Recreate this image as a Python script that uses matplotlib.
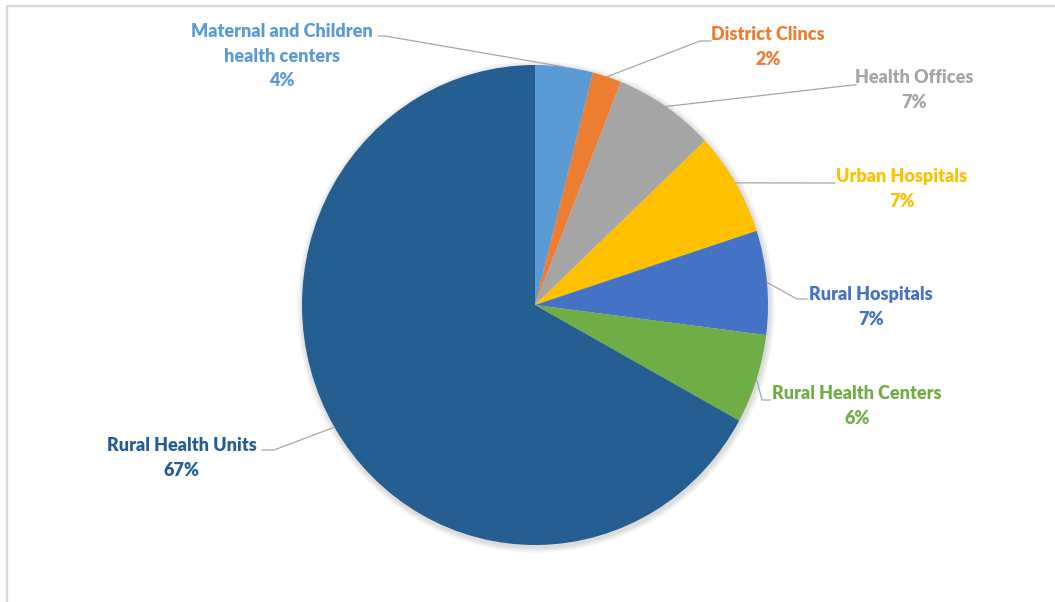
import matplotlib.pyplot as plt
import numpy as np
from matplotlib.patches import Ellipse

# data
labels = [
    "Maternal and Children\nhealth centers",
    "District Clincs",
    "Health Offices",
    "Urban Hospitals",
    "Rural Hospitals",
    "Rural Health Centers",
    "Rural Health Units",
]
shares = [4, 2, 7, 7, 7, 6, 67]
colors = ["#5B9BD5", "#ED7D31", "#A5A5A5", "#FFC000", "#4472C4", "#70AD47", "#255E91"]

# layout (pixels in a 1055x602 canvas)
W, H = 1055, 602
cx, cy, rx, ry = 535, 305, 233, 240
label_pos = [(282, 56), (768, 47), (914, 90), (902, 189), (871, 307), (857, 406), (182, 458)]
elbows = [
    [(385, 36), (378, 36)],
    [(700, 41), (711, 41)],
    [(853, 85), (856, 85)],
    [(835, 183), (835, 183)],
    [(797, 299), (807, 299)],
    [(762, 400), (770, 400)],
    [(274, 450), (262, 450)],
]

plt.rcParams["font.family"] = ["Lato", "DejaVu Sans"]

fig = plt.figure(figsize=(W / 100, H / 100), dpi=100)

over = fig.add_axes([0, 0, 1, 1], zorder=3)
over.set_xlim(0, W)
over.set_ylim(H, 0)
over.axis("off")
over.patch.set_alpha(0)

# chart frame
frame = fig.add_axes([0, 0, 1, 1], zorder=0)
frame.set_xlim(0, W)
frame.set_ylim(H, 0)
frame.axis("off")
frame.plot([7, 7, W + 5], [H + 5, 6, 6], color="#D9D9D9", linewidth=1.6)

# soft shadow under the pie
for k in range(6):
    frame.add_patch(Ellipse((cx + 1, cy + 2), 2 * rx + 2 + 2 * k, 2 * ry + 2 + 2 * k,
                            color="black", alpha=0.025, linewidth=0))

pie_ax = fig.add_axes([(cx - rx) / W, (H - cy - ry) / H, 2 * rx / W, 2 * ry / H], zorder=2)
pie_ax.pie(shares, colors=colors, startangle=90, counterclock=False, radius=1,
           wedgeprops=dict(linewidth=0))
pie_ax.set_aspect("auto")
pie_ax.set_xlim(-1, 1)
pie_ax.set_ylim(-1, 1)
pie_ax.axis("off")

total = sum(shares)
cum = np.cumsum([0] + shares)
for i, (name, val, col) in enumerate(zip(labels, shares, colors)):
    mid = (cum[i] + val / 2) / total
    theta = np.deg2rad(90 - 360 * mid)
    px = cx + rx * np.cos(theta)
    py = cy - ry * np.sin(theta)
    xs = [px] + [p[0] for p in elbows[i]]
    ys = [py] + [p[1] for p in elbows[i]]
    over.plot(xs, ys, color="#A6A6A6", linewidth=0.9)
    tx, ty = label_pos[i]
    over.text(tx, ty, f"{name}\n{val}%", color=col, fontsize=13, fontweight="heavy",
              ha="center", va="center", linespacing=1.55)

fig.savefig("out.png", dpi=100, facecolor="white")
